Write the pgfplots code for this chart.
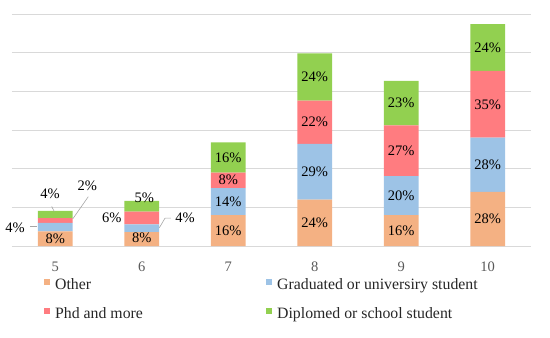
\documentclass[border=0pt]{standalone}
\usepackage{fontspec}
\setmainfont{Liberation Serif}
\usepackage{pgfplots}
\pgfplotsset{compat=1.18}
\definecolor{cOther}{HTML}{F4B183}
\definecolor{cGrad}{HTML}{9DC3E6}
\definecolor{cPhd}{HTML}{FF7C80}
\definecolor{cDipl}{HTML}{92D050}
\definecolor{cGrid}{HTML}{D9D9D9}
\definecolor{cTick}{HTML}{595959}
\begin{document}
\fontsize{14.5}{17}\selectfont
\begin{tikzpicture}
\useasboundingbox (0,0) rectangle (550pt,338pt);
\begin{axis}[
  at={(12pt,92pt)}, anchor=south west,
  scale only axis, width=519pt, height=232pt,
  xmin=-0.5, xmax=5.5, ymin=0, ymax=60,
  ybar stacked, bar width=0.4,
  xtick={0,1,2,3,4,5}, xticklabels={5,6,7,8,9,10},
  xticklabel style={text=cTick, yshift=-11pt},
  ytick={0,10,20,30,40,50,60}, yticklabels={},
  major tick length=0pt,
  ymajorgrids, grid style={cGrid, line width=0.8pt},
  axis line style={draw=none},
  legend columns=2,
  legend cell align=left,
  legend style={at={(axis description cs:0,0)}, anchor=north west,
    xshift=32pt, yshift=-32pt, draw=none, fill=none, inner sep=0pt,
    row sep=14pt, font=\fontsize{15.8}{18}\selectfont,
    nodes={text height=10pt, text depth=3pt, inner sep=1pt, text=black!85},
    /tikz/every odd column/.append style={column sep=4pt},
    /tikz/every even column/.append style={column sep=0pt}},
  legend image code/.code={\fill[#1] (0pt,1pt) rectangle (6pt,7pt);},
]
\addplot[fill=cOther, draw=none] coordinates {(0,3.8) (1,3.6) (2,8) (3,12) (4,8) (5,14)};
\addlegendentry{\makebox[210pt][l]{Other}}
\addplot[fill=cGrad, draw=none] coordinates {(0,2.2) (1,2.0) (2,7) (3,14.4) (4,10.1) (5,14)};
\addlegendentry{Graduated or universiry student}
\addplot[fill=cPhd, draw=none] coordinates {(0,1.2) (1,3.3) (2,4) (3,11.2) (4,13.1) (5,17.3)};
\addlegendentry{\makebox[210pt][l]{Phd and more}}
\addplot[fill=cDipl, draw=none] coordinates {(0,1.9) (1,2.8) (2,7.8) (3,12.2) (4,11.5) (5,12.1)};
\addlegendentry{Diplomed or school student}
\end{axis}
\begin{axis}[
  at={(12pt,92pt)}, anchor=south west,
  scale only axis, width=519pt, height=232pt,
  xmin=-0.5, xmax=5.5, ymin=0, ymax=60,
  hide axis, clip=false,
]
\addplot[draw=none, mark=none, nodes near coords={\pgfplotspointmeta\%},
  point meta=explicit symbolic,
  every node near coord/.style={anchor=center, text=black, inner sep=0pt}]
  table[meta=lab] {
x y lab
0 1.9 8
-0.465 4.6 4
0.37 15.5 2
-0.061 13.6 4
1 2.1 8
1.5 7.2 4
0.653 7.2 6
1.03 12.5 5
2 4 16
2 11.5 14
2 17 8
2 22.9 16
3 6 24
3 19.2 29
3 32 22
3 43.7 24
4 4 16
4 13.05 20
4 24.65 27
4 36.95 23
5 7 28
5 21 28
5 36.65 35
5 51.35 24
};
\draw[gray!70, line width=0.6pt] (axis cs:-0.292,5.0) -- (axis cs:-0.214,5.0);
\draw[gray!70, line width=0.6pt] (axis cs:-0.041,10.2) -- (axis cs:-0.011,8.9);
\draw[gray!70, line width=0.6pt] (axis cs:0.382,12.75) -- (axis cs:0.202,7.0);
\draw[gray!70, line width=0.6pt] (axis cs:1.203,4.7) -- (axis cs:1.269,7.2) -- (axis cs:1.338,7.2);
\end{axis}
\end{tikzpicture}
\end{document}
